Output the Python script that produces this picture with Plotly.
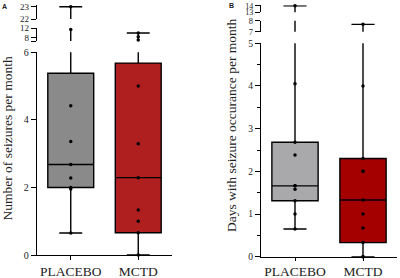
import plotly.graph_objects as go

groups = ["PLACEBO", "MCTD"]

# Panel A: number of seizures per month
a_q1 = [2.0, 0.66]
a_median = [2.68, 2.29]
a_q3 = [5.38, 5.68]
a_low = [0.65, 0.0]
a_high = [23.0, 10.0]
a_points_placebo = [23.0, 11.5, 4.42, 3.36, 2.68, 2.28, 2.0, 1.95, 0.65]
a_points_mctd = [10.0, 8.4, 7.0, 5.0, 3.29, 2.29, 1.33, 1.0, 0.66, 0.0]

# Panel B: days with seizure occurrence per month
b_q1 = [1.31, 0.33]
b_median = [1.66, 1.33]
b_q3 = [2.68, 2.3]
b_low = [0.65, 0.0]
b_high = [14.0, 7.67]
b_points_placebo = [14.0, 4.05, 2.68, 2.38, 1.66, 1.66, 1.58, 1.31, 1.0, 0.65]
b_points_mctd = [7.67, 4.0, 2.3, 2.0, 2.0, 1.33, 1.0, 0.67, 0.33, 0.0, 0.0]

a_colors = ["#8a8a8a", "#b01f1f"]
b_colors = ["#a9a9ab", "#a40000"]

H = 278.0
W = 400.0


def ydom(px_bottom, px_top):
    return [1 - px_bottom / H, 1 - px_top / H]


SERIF = "Liberation Serif"

fig = go.Figure()

# segments: (axis name, range, domain)
segA = [
    ("y", [0, 6], ydom(255, 52.3)),
    ("y2", [6.6, 12], ydom(41.0, 28.3)),
    ("y3", [22, 23.1], ydom(19, 5.47)),
]
segB = [
    ("y4", [0, 5], ydom(256.7, 43.3)),
    ("y5", [7, 8], ydom(31.7, 20.7)),
    ("y6", [13, 14.1], ydom(12.3, 5.2)),
]


def add_panel(xname, segs, q1, med, q3, lo, hi, pts, colors):
    for yname, rng, dom in segs:
        for i in range(2):
            fig.add_trace(go.Box(
                x=[i], q1=[q1[i]], median=[med[i]], q3=[q3[i]],
                lowerfence=[lo[i]], upperfence=[hi[i]],
                width=0.68, whiskerwidth=0.5,
                fillcolor=colors[i], line=dict(color="black", width=1.4),
                boxpoints=False, xaxis=xname, yaxis=yname,
                showlegend=False, hoverinfo="skip",
            ))
            vals = [v for v in pts[i] if rng[0] - 0.01 <= v <= rng[1]]
            if vals:
                fig.add_trace(go.Scatter(
                    x=[i] * len(vals), y=vals, mode="markers",
                    marker=dict(color="black", size=3.5),
                    xaxis=xname, yaxis=yname, showlegend=False,
                    cliponaxis=False, hoverinfo="skip",
                ))


add_panel("x", segA, a_q1, a_median, a_q3, a_low, a_high,
          [a_points_placebo, a_points_mctd], a_colors)
add_panel("x2", segB, b_q1, b_median, b_q3, b_low, b_high,
          [b_points_placebo, b_points_mctd], b_colors)

xcommon = dict(
    range=[-0.5, 1.5], tickvals=[0, 1], ticktext=groups,
    showline=True, linecolor="black", linewidth=1.4,
    ticks="outside", tickwidth=1.2, tickcolor="black",
    showgrid=False, zeroline=False, automargin=False,
    tickfont=dict(family=SERIF, size=13.5, color="#222"),
    fixedrange=True,
)

fig.update_layout(
    xaxis=dict(domain=[37 / W, 172 / W], anchor="y", ticklen=4, **xcommon),
    xaxis2=dict(domain=[261 / W, 397 / W], anchor="y4", ticklen=3,
                ticklabelstandoff=-1, **xcommon),
)

ycommon = dict(
    showline=True, linecolor="black", linewidth=1.4,
    ticks="outside", ticklen=5, tickwidth=1.2, tickcolor="black",
    showgrid=False, zeroline=False, fixedrange=True, automargin=False,
)

tickinfo = {
    "y": ([0, 2, 4, 6], ["0", "2", "4", "6"], 10, "x"),
    "y2": ([6.6, 8, 12], ["", "8", "12"], 9, "x"),
    "y3": ([22, 23], ["22", "23"], 9, "x"),
    "y4": ([0, 1, 2, 3, 4, 5], ["0", "1", "2", "3", "4", "5"], 9.5, "x2"),
    "y5": ([7, 8], ["7", "8"], 8.5, "x2"),
    "y6": ([13, 14], ["13", "14"], 8, "x2"),
}

for yname, rng, dom in segA + segB:
    tv, tt, fs, xa = tickinfo[yname]
    key = "yaxis" if yname == "y" else "yaxis" + yname[1:]
    d = dict(range=rng, domain=dom, anchor=xa, tickvals=tv, ticktext=tt,
             tickfont=dict(family=SERIF, size=fs, color="#222"), **ycommon)
    if yname == "y4":
        d["minor"] = dict(ticks="outside", ticklen=3, tickwidth=1,
                          tickcolor="black", dtick=0.5, tick0=0)
    fig.layout[key] = d

fig.update_layout(
    width=400, height=278,
    margin=dict(l=0, r=0, t=0, b=0),
    paper_bgcolor="white", plot_bgcolor="white",
    showlegend=False,
    annotations=[
        dict(text="Number of seizures per month", x=7 / W, y=1 - 138.5 / H,
             xref="paper", yref="paper", showarrow=False, textangle=-90,
             font=dict(family=SERIF, size=13.5, color="#222"),
             xanchor="center", yanchor="middle"),
        dict(text="Days with seizure occurance per month", x=231 / W, y=1 - 125 / H,
             xref="paper", yref="paper", showarrow=False, textangle=-90,
             font=dict(family=SERIF, size=13.5, color="#222"),
             xanchor="center", yanchor="middle"),
        dict(text="<b>A</b>", x=4 / W, y=1 - 7 / H, xref="paper", yref="paper",
             showarrow=False, font=dict(family="Liberation Sans", size=7, color="#222"),
             xanchor="center", yanchor="middle"),
        dict(text="<b>B</b>", x=231 / W, y=1 - 6 / H, xref="paper", yref="paper",
             showarrow=False, font=dict(family="Liberation Sans", size=7, color="#222"),
             xanchor="center", yanchor="middle"),
    ],
)

fig.write_html("out.html", config={"displayModeBar": False},
               post_script="document.body.style.margin='0';document.body.style.overflow='hidden';")
